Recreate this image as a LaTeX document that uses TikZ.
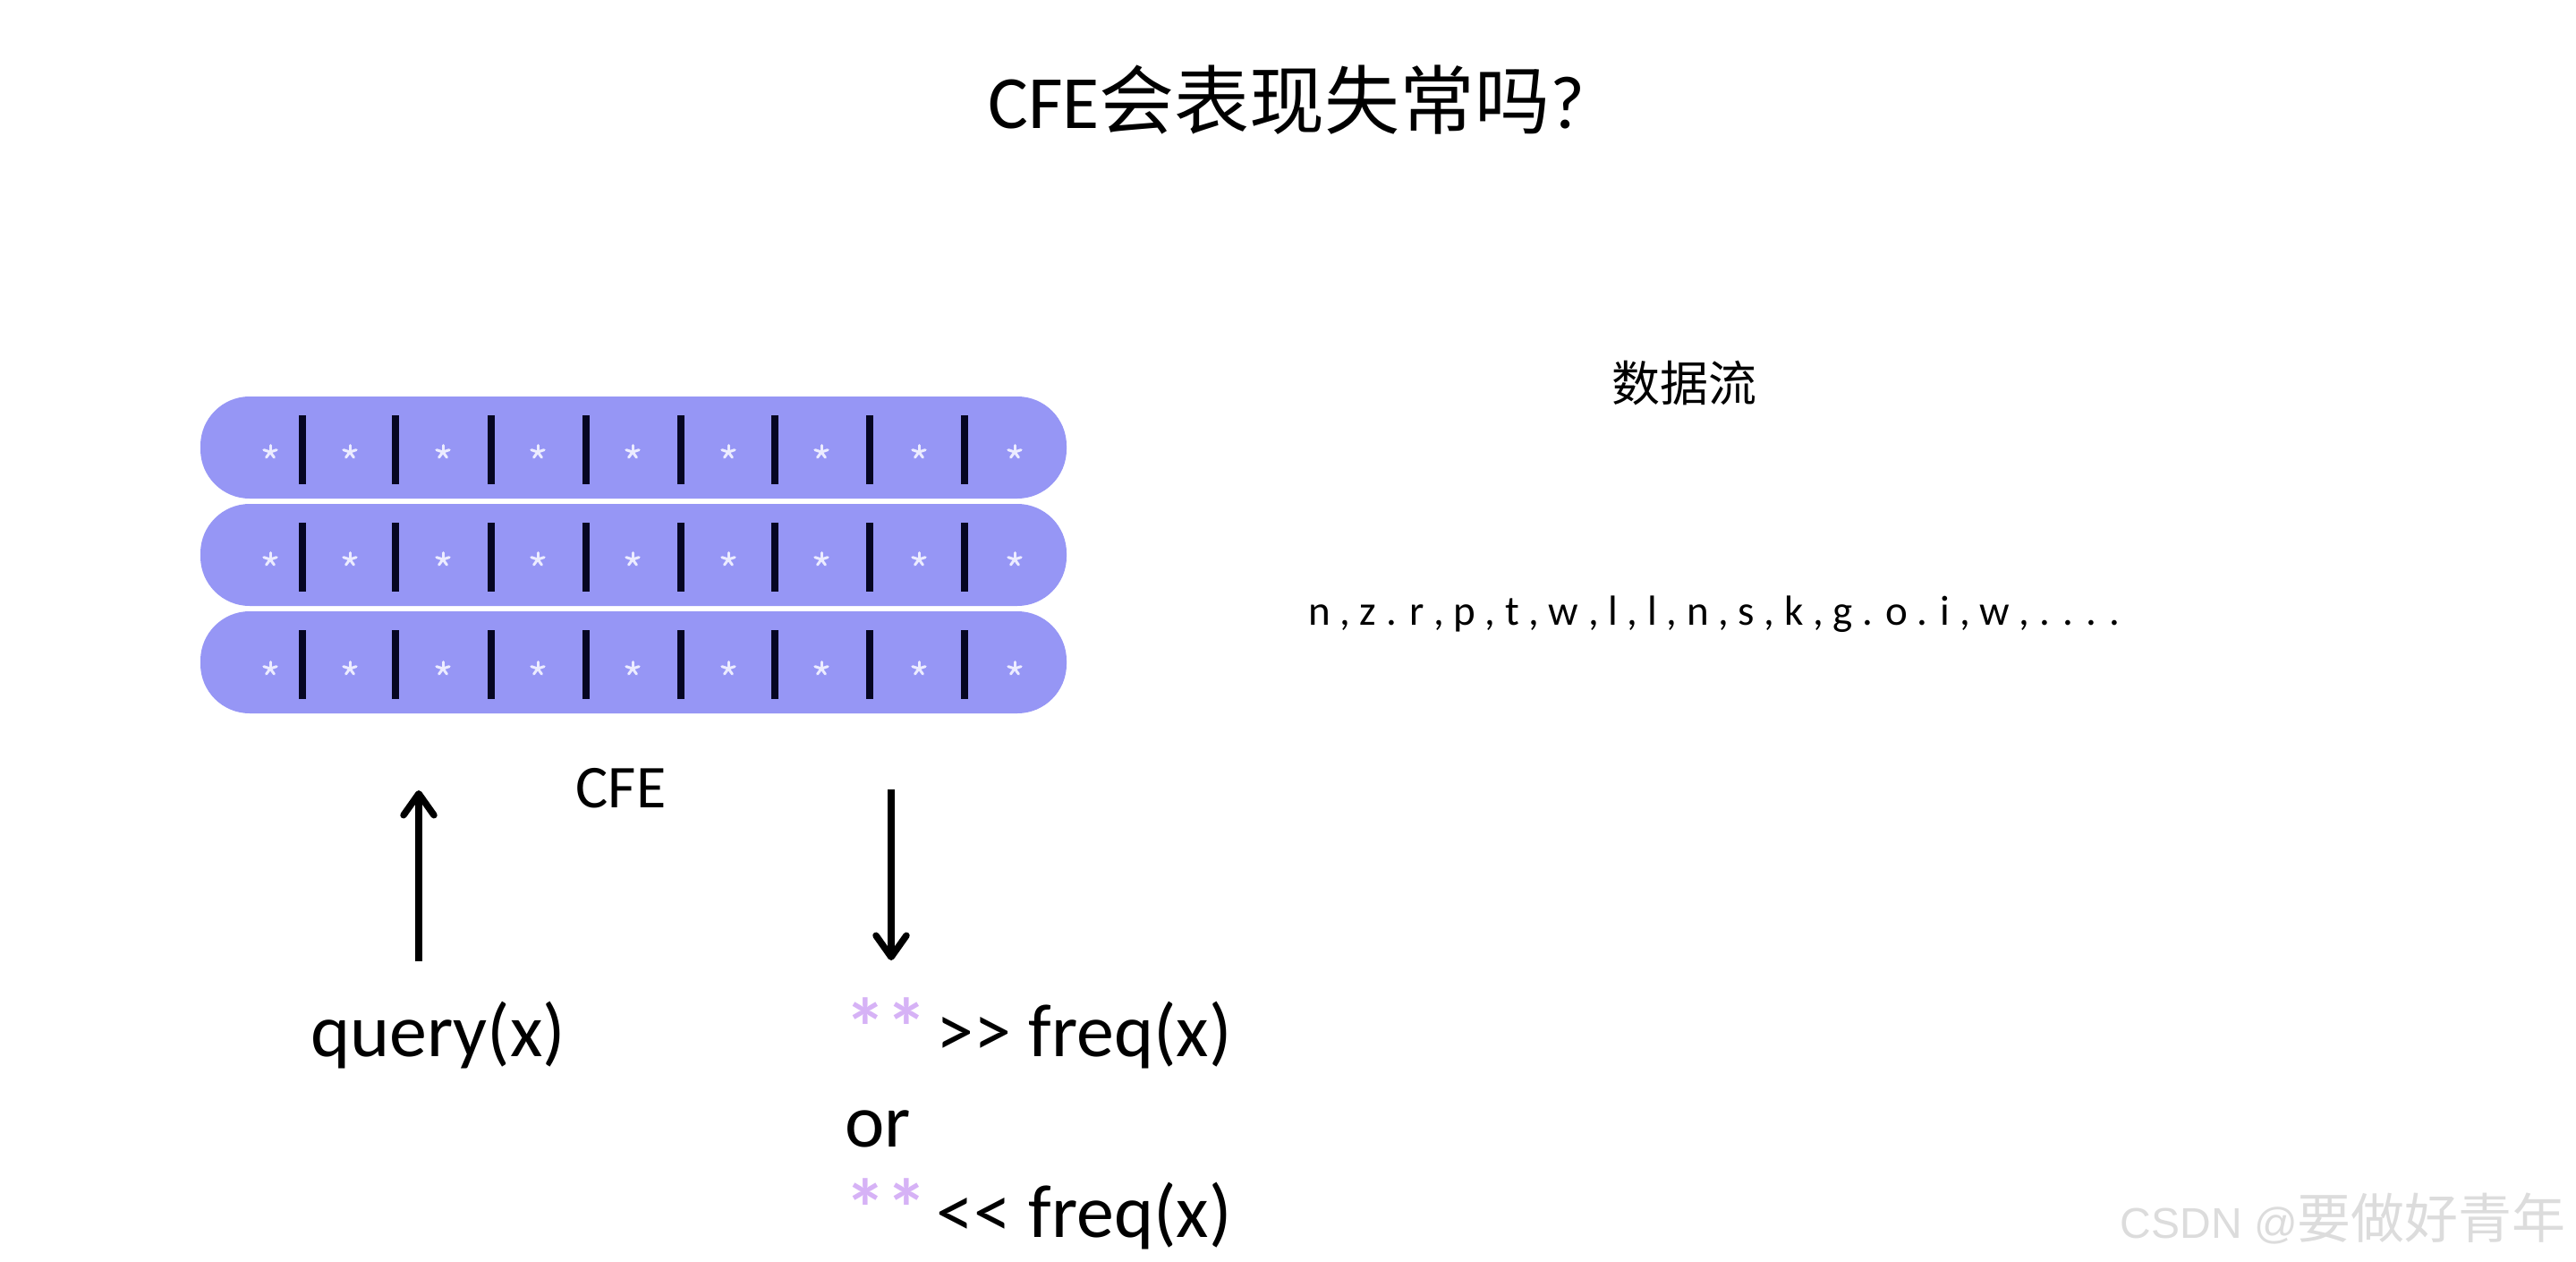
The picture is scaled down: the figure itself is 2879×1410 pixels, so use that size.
\documentclass[tikz,border=0pt]{standalone}
\usepackage{fontspec}
\setmainfont{Carlito}
\newfontfamily\cjk{Noto Sans CJK SC}
\newfontfamily\wmlat{Liberation Sans}
\usetikzlibrary{arrows.meta}
\definecolor{barfill}{RGB}{150,150,245}
\definecolor{tickc}{RGB}{6,6,34}
\definecolor{starc}{RGB}{236,236,255}
\definecolor{astc}{RGB}{214,178,246}
\definecolor{wmc}{RGB}{220,220,220}
\newcommand{\astpair}{{\color{astc}\fontsize{92pt}{96pt}\selectfont\bfseries **}\kern-8pt}
\begin{document}
\begin{tikzpicture}[x=1pt,y=-1pt,
  bar/.style={draw=none, fill=barfill, rounded corners=55pt, minimum width=968pt, minimum height=114pt, inner sep=0pt},
  tickline/.style={draw=tickc, line width=8pt},
  starline/.style={draw=starc, line width=3pt, line cap=round},
  arr/.style={line width=7.5pt, -{Straight Barb[length=24pt, width=34pt, round]}},
  txt/.style={inner sep=0pt}]
\fill[white] (0,0) rectangle (2879,1410);
\useasboundingbox (0,0) rectangle (2879,1410);

% title
\node[txt, anchor=base] (title) at (1438,143) {\fontsize{84pt}{96pt}\selectfont CFE{\cjk 会表现失常吗}?};

% bars
\node[bar] (bar1) at (708,500) {};
\node[bar] (bar2) at (708,620) {};
\node[bar] (bar3) at (708,740) {};

\foreach \bt/\sy in {443/505, 563/625, 683/747}{
  \foreach \tx in {338,442,549,655,761,866,972,1078}{
    \draw[tickline] (\tx,{\bt+21}) -- (\tx,{\bt+98});
  }
  \foreach \sx in {302,391,495,601,707,814,918,1027,1134}{
    \foreach \a in {90,162,234,306,18}{
      \draw[starline] (\sx,\sy) -- ++(\a:7.5pt);
    }
  }
}

\node[txt, anchor=base] (cfe) at (694,902) {\fontsize{68pt}{80pt}\selectfont CFE};

% arrows
\coordinate (uptail) at (468,1074);
\coordinate (uptip) at (468,883);
\coordinate (dntail) at (996,882);
\coordinate (dntip) at (996,1073);
\draw[arr] (uptail) -- (uptip);
\draw[arr] (dntail) -- (dntip);

% bottom texts
\node[txt, anchor=base west] (query) at (347,1180) {\fontsize{84pt}{96pt}\selectfont query(x)};
\node[txt, anchor=base west] (gt) at (944,1180) {\fontsize{84pt}{96pt}\selectfont\astpair{} >\kern0pt> freq(x)};
\node[txt, anchor=base west] (orr) at (944,1281) {\fontsize{84pt}{96pt}\selectfont or};
\node[txt, anchor=base west] (lt) at (944,1382) {\fontsize{84pt}{96pt}\selectfont\astpair{} <\kern0pt< freq(x)};

% data stream
\node[txt] (dslabel) at (1882,428) {\fontsize{54pt}{60pt}\selectfont\cjk 数据流};
\node[txt, anchor=base west] (stream) at (1462,698) {\fontsize{47pt}{56pt}\selectfont n , z . r , p , t , w , l , l , n , s , k , g . o . i , w , . . . .};

% watermark
\node[txt, anchor=base east, text=wmc] (wm) at (2868,1383) {{\fontsize{48pt}{56pt}\selectfont\wmlat CSDN @}{\fontsize{60pt}{66pt}\selectfont\cjk 要做好青年}};
\end{tikzpicture}
\end{document}
